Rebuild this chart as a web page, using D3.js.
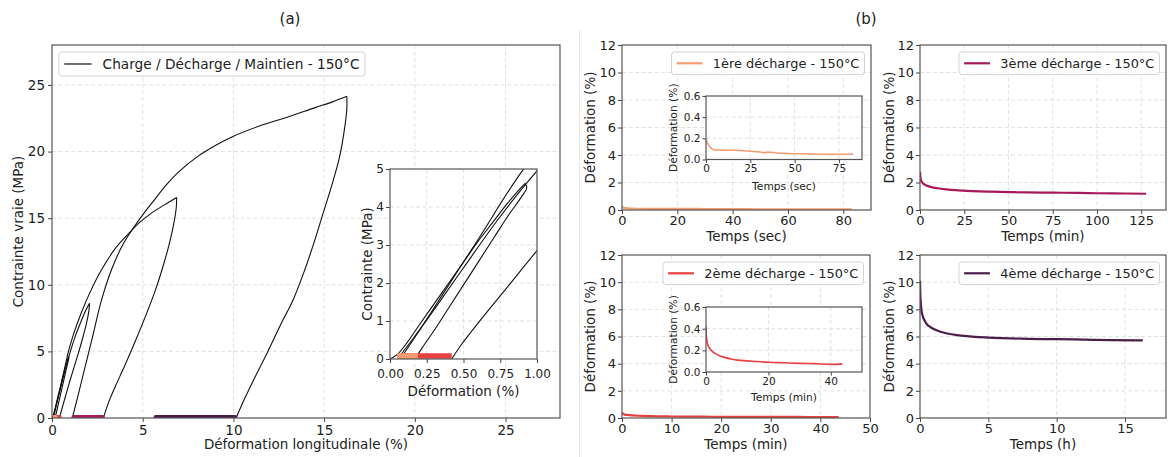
<!DOCTYPE html>
<html><head><meta charset="utf-8">
<script src="https://cdn.jsdelivr.net/npm/d3@7"></script>
<style>
body{margin:0;background:#fff}
svg{display:block}
text{font-family:"DejaVu Sans",sans-serif;fill:#222}
</style>
</head><body>
<svg id="c" width="1168" height="457"></svg>
<script>
// ---------------- DATA ----------------
// (a) Stress–strain cycles: [strain %, true stress MPa]
const cycle1Load   = [[0,0],[0.05,0.12],[0.12,0.45],[0.2,0.9],[0.3,1.45],[0.4,2.0],[0.5,2.55],[0.6,3.1],[0.7,3.6],[0.8,4.1],[0.87,4.42],[0.92,4.62]];
const cycle1Unload = [[0.92,4.62],[0.93,4.5],[0.9,4.3],[0.8,3.75],[0.7,3.15],[0.6,2.55],[0.5,1.95],[0.4,1.35],[0.3,0.75],[0.22,0.3],[0.17,0]];
const cycle2Load   = [[0.05,0],[0.15,0.5],[0.3,1.3],[0.5,2.4],[0.75,3.75],[1.0,4.95],[1.3,6.2],[1.6,7.25],[1.85,8.05],[2.07,8.62]];
const cycle2Unload = [[2.07,8.62],[2.03,8.0],[1.9,7.1],[1.65,5.8],[1.35,4.4],[1.0,2.85],[0.8,1.9],[0.6,0.95],[0.48,0.35],[0.42,0]];
const cycle3Load   = [[0.07,0],[0.2,0.75],[0.4,1.95],[0.6,3.15],[0.9,4.95],[1.2,6.35],[1.6,7.85],[2.1,9.45],[2.7,11.05],[3.5,12.75],[4.3,13.95],[4.85,14.7],[5.5,15.4],[6.2,16.0],[6.87,16.55]];
const cycle3Unload = [[6.87,16.55],[6.85,15.8],[6.7,14.5],[6.45,13.0],[6.1,11.3],[5.7,9.6],[5.2,7.8],[4.6,5.8],[4.0,3.9],[3.5,2.4],[3.1,1.1],[2.83,0]];
const cycle4Load   = [[1.12,0],[1.4,1.5],[1.8,3.7],[2.2,5.9],[2.74,8.9],[3.3,11.2],[3.9,13.0],[4.5,14.3],[5.0,15.25],[5.6,16.3],[6.3,17.5],[7.0,18.5],[8.0,19.6],[9.0,20.45],[10.0,21.15],[11.5,21.95],[13.0,22.6],[14.5,23.3],[15.5,23.75],[16.25,24.15]];
const cycle4Unload = [[16.25,24.15],[16.25,23.2],[16.1,21.5],[15.85,19.6],[15.45,17.6],[14.95,15.4],[14.45,13.2],[13.9,11.0],[13.3,8.9],[12.6,7.0],[11.9,5.0],[11.2,3.1],[10.6,1.4],[10.15,0]];
const HOLD_STRESS = 0.08; // stress during hold (MPa)

// (b) Strain recovery after each unloading
const rec1Time   = [0,0.5,1,2,3,4,5,7,10,15,20,25,30,33,35,40,45,50,55,60,65,70,75,80,83];        // sec
const rec1Strain = [0.19,0.17,0.15,0.125,0.105,0.095,0.09,0.09,0.088,0.087,0.085,0.078,0.072,0.065,0.07,0.062,0.058,0.055,0.055,0.052,0.05,0.048,0.05,0.05,0.055];
const rec2Time   = [0,0.1,0.3,0.6,1,1.5,2,3,4,6,8,10,13,16,20,25,30,35,40,43.7];                  // min
const rec2Strain = [0.42,0.34,0.29,0.25,0.225,0.205,0.19,0.17,0.155,0.135,0.12,0.11,0.103,0.097,0.09,0.085,0.08,0.077,0.07,0.075];
const rec3Time   = [0,0.2,0.5,1,2,3,5,7,10,15,20,30,40,50,60,75,90,100,115,127.8];               // min
const rec3Strain = [2.8,2.45,2.2,2.05,1.9,1.82,1.72,1.65,1.58,1.5,1.44,1.37,1.33,1.3,1.28,1.26,1.24,1.22,1.2,1.18];
const rec4Time   = [0,0.02,0.05,0.1,0.2,0.35,0.5,0.75,1,1.5,2,3,4,5,6,7.5,9,10,12,14,16.3];       // h
const rec4Strain = [10.1,9.2,8.6,8.0,7.5,7.15,6.9,6.7,6.55,6.35,6.22,6.06,5.97,5.92,5.88,5.84,5.81,5.8,5.77,5.74,5.71];

const legendLabels = ["Charge / Décharge / Maintien - 150°C","1ère décharge - 150°C","2ème décharge - 150°C","3ème décharge - 150°C","4ème décharge - 150°C"];
const colors = ["#111111","#f69c73","#e83f3f","#a8195c","#4c1d4b"];

const ticksA  = [0,5,10,15,20,25];
const ticksAinX = [0,0.25,0.5,0.75,1];
const ticksAinY = [0,1,2,3,4,5];
const ticksStrain = [0,2,4,6,8,10,12];
const ticksInsetY = [0,0.2,0.4,0.6];
const ticksB1 = [0,20,40,60,80], ticksB1in = [0,25,50,75];
const ticksB2 = [0,10,20,30,40,50], ticksB2in = [0,20,40];
const ticksB3 = [0,25,50,75,100,125];
const ticksB4 = [0,5,10,15];

// ---------------- DRAWING ----------------
const svg = d3.select("#c");
let clipId = 0;

function panel(o){
  const g = svg.append("g");
  const x = d3.scaleLinear().domain(o.xd).range([o.x0,o.x1]);
  const y = d3.scaleLinear().domain(o.yd).range([o.y1,o.y0]);
  g.append("rect").attr("x",o.x0).attr("y",o.y0).attr("width",o.x1-o.x0).attr("height",o.y1-o.y0).attr("fill","#fff");
  const grid = g.append("g").attr("stroke","#d9d9d9").attr("stroke-width",0.8).attr("stroke-dasharray","4,2.5");
  o.xt.forEach(v=>{ if(v>o.xd[0] && v<o.xd[1]) grid.append("line").attr("x1",x(v)).attr("x2",x(v)).attr("y1",o.y0).attr("y2",o.y1);});
  o.yt.forEach(v=>{ if(v>o.yd[0] && v<o.yd[1]) grid.append("line").attr("y1",y(v)).attr("y2",y(v)).attr("x1",o.x0).attr("x2",o.x1);});
  const id = "clip"+(clipId++);
  svg.append("clipPath").attr("id",id).append("rect").attr("x",o.x0).attr("y",o.y0).attr("width",o.x1-o.x0).attr("height",o.y1-o.y0);
  const data = g.append("g").attr("clip-path",`url(#${id})`);
  const frame = g.append("g");
  const ts = o.tickLen, fs = o.fs;
  const ax = frame.append("g").attr("transform",`translate(0,${o.y1})`)
     .call(d3.axisBottom(x).tickValues(o.xt).tickFormat(o.fx||d3.format("d")).tickSize(ts).tickSizeOuter(0).tickPadding(o.padX));
  const ay = frame.append("g").attr("transform",`translate(${o.x0},0)`)
     .call(d3.axisLeft(y).tickValues(o.yt).tickFormat(o.fy||d3.format("d")).tickSize(ts).tickSizeOuter(0).tickPadding(o.padY));
  [ax,ay].forEach(a=>{
    a.attr("font-size",fs).attr("font-family",null);
    a.select(".domain").remove();
    a.selectAll(".tick line").attr("stroke","#444").attr("stroke-width",1);
    a.selectAll(".tick text").attr("fill","#222");
  });
  frame.append("rect").attr("x",o.x0).attr("y",o.y0).attr("width",o.x1-o.x0).attr("height",o.y1-o.y0)
     .attr("fill","none").attr("stroke","#555").attr("stroke-width",1.2);
  if(o.xlabel) frame.append("text").attr("x",o.xlx!=null?o.xlx:(o.x0+o.x1)/2).attr("y",o.xly).attr("text-anchor","middle").attr("font-size",o.lfs).text(o.xlabel);
  if(o.ylabel) frame.append("text").attr("transform",`translate(${o.ylx},${(o.y0+o.y1)/2}) rotate(-90)`).attr("dy","0.35em").attr("text-anchor","middle").attr("font-size",o.lfs).text(o.ylabel);
  return {x,y,data,g,frame};
}

function legend(o){
  const g = svg.append("g");
  const fs = o.fs;
  const t = g.append("text").attr("font-size",fs).text(o.text);
  const tw = t.node().getComputedTextLength();
  const pad = 0.4*fs, hl = 2*fs, htp = 0.8*fs;
  const w = pad + hl + htp + tw + pad;
  const h = 1.75*fs;
  const bx = o.anchor==="right" ? o.x - w : o.x;
  g.insert("rect","text").attr("x",bx).attr("y",o.y).attr("width",w).attr("height",h).attr("rx",3)
    .attr("fill","#fff").attr("fill-opacity",0.85).attr("stroke","#d2d2d2").attr("stroke-width",1);
  g.append("line").attr("x1",bx+pad).attr("x2",bx+pad+hl).attr("y1",o.y+h/2).attr("y2",o.y+h/2)
    .attr("stroke",o.color).attr("stroke-width",o.lw);
  t.attr("x",bx+pad+hl+htp).attr("y",o.y+h/2).attr("dy","0.36em");
}

const lineXY = (p)=> d3.line().x(d=>p.x(d[0])).y(d=>p.y(d[1])).curve(d3.curveCatmullRom.alpha(0.5));
const lineTS = (p)=> d3.line().x(d=>p.x(d[0])).y(d=>p.y(d[1])).curve(d3.curveMonotoneX);
const zip = (a,b)=> a.map((v,i)=>[v,b[i]]);
const cycles = [cycle1Load,cycle1Unload,cycle2Load,cycle2Unload,cycle3Load,cycle3Unload,cycle4Load,cycle4Unload];
const holds = [rec1Strain,rec2Strain,rec3Strain,rec4Strain];

// separator of panel (b)
svg.append("line").attr("x1",579.5).attr("x2",579.5).attr("y1",30).attr("y2",457).attr("stroke","#e8e8e8").attr("stroke-width",1);

// titles
svg.append("text").attr("x",290).attr("y",24).attr("text-anchor","middle").attr("font-size",15).text("(a)");
svg.append("text").attr("x",866).attr("y",24).attr("text-anchor","middle").attr("font-size",15).text("(b)");

// ---- (a) main ----
const A = panel({x0:52,x1:560,y0:45,y1:418,xd:[0,28],yd:[0,28],xt:ticksA,yt:ticksA,fs:13.5,lfs:13.5,
  tickLen:4,padX:3,padY:3,xlabel:"Déformation longitudinale (%)",xly:449,ylabel:"Contrainte vraie (MPa)",ylx:18});
cycles.forEach(c=> A.data.append("path").attr("d",lineXY(A)(c)).attr("fill","none").attr("stroke",colors[0]).attr("stroke-width",1.1));
[1,0,2,3].forEach(i=> A.data.append("path").attr("d",d3.line().x(d=>A.x(d)).y(()=>A.y(HOLD_STRESS))(holds[i]))
   .attr("fill","none").attr("stroke",colors[i+1]).attr("stroke-width",4).attr("stroke-linecap","round"));
legend({x:58.75,y:52,anchor:"left",text:legendLabels[0],color:colors[0],fs:13.7,lw:1.2});

// ---- (a) inset ----
const AI = panel({x0:390,x1:537,y0:169,y1:359,xd:[0,1],yd:[0,5],xt:ticksAinX,yt:ticksAinY,fx:d3.format(".2f"),fs:12,lfs:13.5,
  tickLen:4,padX:6,padY:2,xlabel:"Déformation (%)",xly:396,ylabel:"Contrainte (MPa)",ylx:367});
cycles.forEach(c=> AI.data.append("path").attr("d",lineXY(AI)(c)).attr("fill","none").attr("stroke",colors[0]).attr("stroke-width",1.1));
[1,3,0,2].forEach(i=> AI.data.append("path").attr("d",d3.line().x(d=>AI.x(d)).y(()=>AI.y(HOLD_STRESS))(holds[i]))
   .attr("fill","none").attr("stroke",colors[i+1]).attr("stroke-width",5.5));

// ---- (b) panels ----
const rightCommon = {fs:13,lfs:13.5,tickLen:4,padX:2,padY:2,yd:[0,12],yt:ticksStrain,ylabel:"Déformation (%)"};
const recs = [
  {t:rec1Time,s:rec1Strain,box:{x0:622,x1:871,y0:45,y1:210},xd:[0,90],xt:ticksB1,xl:"Temps (sec)",xly:241,ylx:590,
   inset:{x0:706,x1:862,y0:96,y1:159.5,xd:[0,88],xt:ticksB1in,xl:"Temps (sec)",xly:190,ylx:673}},
  {t:rec2Time,s:rec2Strain,box:{x0:622,x1:870,y0:255,y1:418},xd:[0,50],xt:ticksB2,xl:"Temps (min)",xly:449,ylx:590,
   inset:{x0:706,x1:862,y0:307,y1:372,xd:[0,50],xt:ticksB2in,xl:"Temps (min)",xly:401,ylx:673}},
  {t:rec3Time,s:rec3Strain,box:{x0:920,x1:1166,y0:45,y1:210},xd:[0,139],xt:ticksB3,xl:"Temps (min)",xly:241,ylx:889},
  {t:rec4Time,s:rec4Strain,box:{x0:920,x1:1166,y0:255,y1:418},xd:[0,18],xt:ticksB4,xl:"Temps (h)",xly:449,ylx:889}
];
recs.forEach((r,i)=>{
  const P = panel(Object.assign({},rightCommon,r.box,{xd:r.xd,xt:r.xt,xlabel:r.xl,xly:r.xly,ylx:r.ylx}));
  P.data.append("path").attr("d",lineTS(P)(zip(r.t,r.s))).attr("fill","none").attr("stroke",colors[i+1]).attr("stroke-width",2.2);
  legend({x:r.box.x1-6.5,y:r.box.y0+7,anchor:"right",text:legendLabels[i+1],color:colors[i+1],fs:12.9,lw:2.2});
  if(r.inset){
    const n = r.inset;
    const Q = panel({x0:n.x0,x1:n.x1,y0:n.y0,y1:n.y1,xd:n.xd,yd:[0,0.6],xt:n.xt,yt:ticksInsetY,fy:d3.format(".1f"),
      fs:10.5,lfs:10.7,tickLen:3.5,padX:2,padY:2,xlabel:n.xl,xly:n.xly,ylabel:"Déformation (%)",ylx:n.ylx});
    Q.data.append("path").attr("d",lineTS(Q)(zip(r.t,r.s))).attr("fill","none").attr("stroke",colors[i+1]).attr("stroke-width",1.6);
  }
});
</script>
</body></html>
